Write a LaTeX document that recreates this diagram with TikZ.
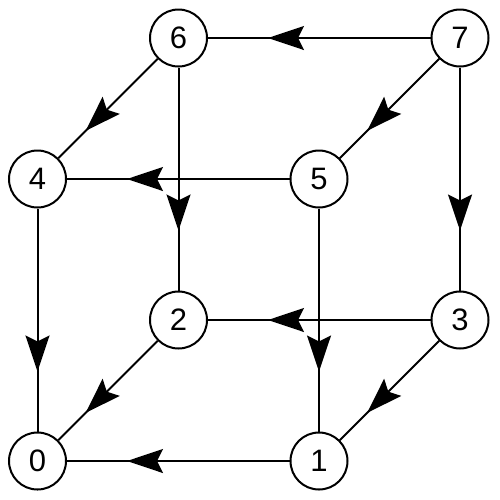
\documentclass[tikz,border=0pt]{standalone}
\usepackage{fontspec}
\setmainfont{Liberation Sans}
\usetikzlibrary{arrows.meta,decorations.markings}
\begin{document}
\begin{tikzpicture}[x=1pt,y=-1pt,
  vert/.style={circle,draw,line width=2pt,fill=white,minimum size=57pt,inner sep=0pt,font=\fontsize{31}{31}\selectfont},
  hv/.style={line width=2pt,postaction={decorate},decoration={markings,mark=at position -60pt with {\arrow{Stealth[length=36pt,width=24pt,inset=6pt]}}}},
  dg/.style={line width=2pt,postaction={decorate},decoration={markings,mark=at position -38pt with {\arrow{Stealth[length=36pt,width=24pt,inset=6pt]}}}}]
\useasboundingbox (0,0) rectangle (500,499);
\node[vert] (n0) at (37.5,461) {0};
\node[vert] (n1) at (319,461) {1};
\node[vert] (n2) at (178.5,320) {2};
\node[vert] (n3) at (460,320) {3};
\node[vert] (n4) at (37.5,179) {4};
\node[vert] (n5) at (319,179) {5};
\node[vert] (n6) at (178.5,38) {6};
\node[vert] (n7) at (460,38) {7};
\draw[hv] (n7) -- (n6);
\draw[hv] (n7) -- (n3);
\draw[hv] (n6) -- (n2);
\draw[hv] (n5) -- (n4);
\draw[hv] (n5) -- (n1);
\draw[hv] (n4) -- (n0);
\draw[hv] (n3) -- (n2);
\draw[hv] (n1) -- (n0);
\draw[dg] (n7) -- (n5);
\draw[dg] (n6) -- (n4);
\draw[dg] (n3) -- (n1);
\draw[dg] (n2) -- (n0);
\end{tikzpicture}
\end{document}
